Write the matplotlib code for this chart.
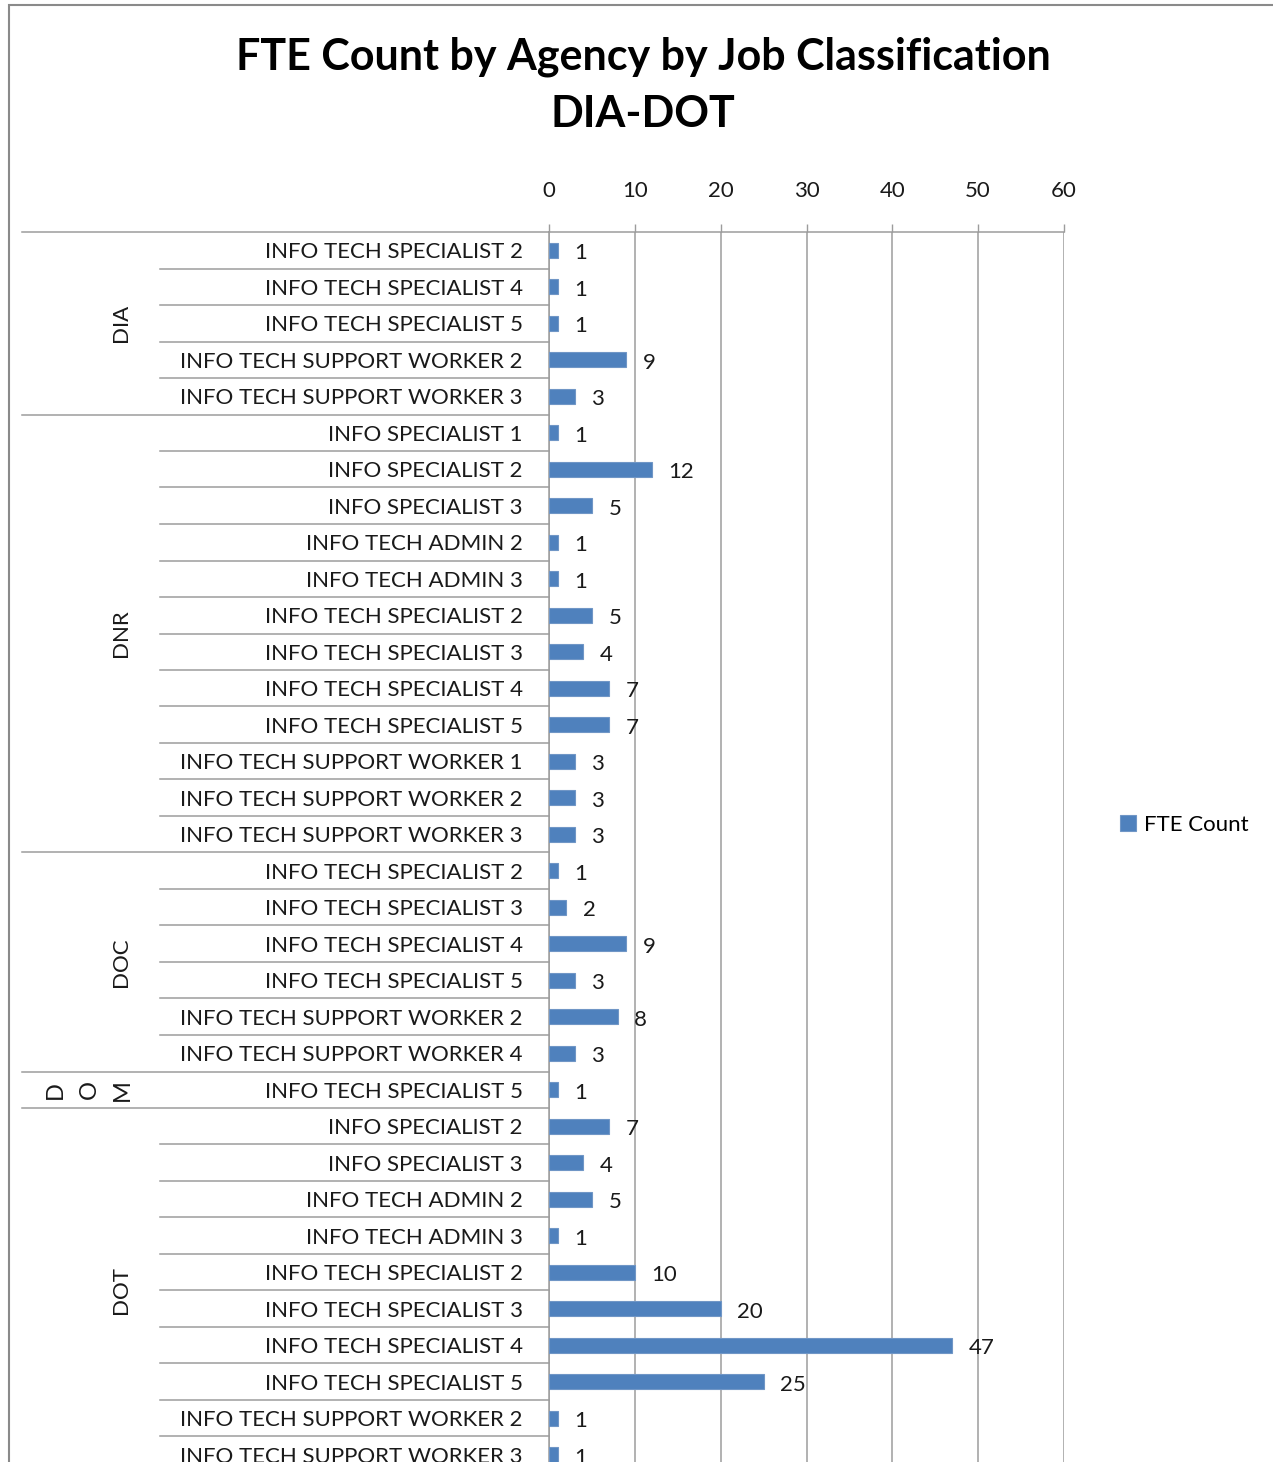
import matplotlib
matplotlib.use('Agg')
import matplotlib.pyplot as plt
import matplotlib.transforms as mtransforms
from matplotlib.patches import Rectangle

plt.rcParams['font.family'] = ['Lato', 'DejaVu Sans']

# Agencies and how many job classes each one has (top to bottom)
agencies = ["DIA", "DNR", "DOC", "DOM", "DOT"]
agency_sizes = [5, 12, 6, 1, 10]

job_classes = [
    # DIA
    "INFO TECH SPECIALIST 2", "INFO TECH SPECIALIST 4", "INFO TECH SPECIALIST 5",
    "INFO TECH SUPPORT WORKER 2", "INFO TECH SUPPORT WORKER 3",
    # DNR
    "INFO SPECIALIST 1", "INFO SPECIALIST 2", "INFO SPECIALIST 3",
    "INFO TECH ADMIN 2", "INFO TECH ADMIN 3",
    "INFO TECH SPECIALIST 2", "INFO TECH SPECIALIST 3", "INFO TECH SPECIALIST 4",
    "INFO TECH SPECIALIST 5",
    "INFO TECH SUPPORT WORKER 1", "INFO TECH SUPPORT WORKER 2", "INFO TECH SUPPORT WORKER 3",
    # DOC
    "INFO TECH SPECIALIST 2", "INFO TECH SPECIALIST 3", "INFO TECH SPECIALIST 4",
    "INFO TECH SPECIALIST 5", "INFO TECH SUPPORT WORKER 2", "INFO TECH SUPPORT WORKER 4",
    # DOM
    "INFO TECH SPECIALIST 5",
    # DOT
    "INFO SPECIALIST 2", "INFO SPECIALIST 3", "INFO TECH ADMIN 2", "INFO TECH ADMIN 3",
    "INFO TECH SPECIALIST 2", "INFO TECH SPECIALIST 3", "INFO TECH SPECIALIST 4",
    "INFO TECH SPECIALIST 5", "INFO TECH SUPPORT WORKER 2", "INFO TECH SUPPORT WORKER 3",
]

fte_count = [
    1, 1, 1, 9, 3,
    1, 12, 5, 1, 1, 5, 4, 7, 7, 3, 3, 3,
    1, 2, 9, 3, 8, 3,
    1,
    7, 4, 5, 1, 10, 20, 47, 25, 1, 1,
]

x_ticks = [0, 10, 20, 30, 40, 50, 60]

W, H = 1273, 1462
fig = plt.figure(figsize=(W / 100, H / 100), dpi=100)

def fx(px):
    return px / W

def fy(py):
    return 1 - py / H

# plot area runs off the bottom of the page, like the exported sheet
ax_left, ax_right, ax_top, ax_bottom = 549, 1064, 232, 1473
ax = fig.add_axes([fx(ax_left), fy(ax_bottom), fx(ax_right - ax_left), (ax_bottom - ax_top) / H])

grey = '#9c9c9c'
blue = '#4F81BD'
ink = '#1a1a1a'
fs = 16

y = range(len(job_classes))
ax.barh(y, fte_count, height=0.4, color=blue, edgecolor='#7096c6',
        linewidth=0.8, label="FTE Count", zorder=3)

for yi, v in zip(y, fte_count):
    ax.annotate(str(v), (v, yi), xytext=(12, -2), textcoords='offset points',
                ha='left', va='center', fontsize=fs, color=ink, zorder=4)

ax.set_xlim(0, 60)
ax.set_ylim(len(job_classes) - 0.5, -0.5)
ax.set_xticks(x_ticks)
ax.xaxis.tick_top()
ax.tick_params(axis='x', direction='out', length=6, width=1, color=grey,
               pad=16, labelsize=fs, labelcolor=ink)
ax.set_yticks(list(y))
ax.set_yticklabels(job_classes)
ax.tick_params(axis='y', length=0, pad=19, labelsize=fs, labelcolor=ink)
ax.grid(True, axis='x', color=grey, linewidth=1.1, zorder=0)
for side in ['right', 'bottom']:
    ax.spines[side].set_visible(False)
for side in ['top', 'left']:
    ax.spines[side].set_color(grey)
    ax.spines[side].set_linewidth(1.1)

# category separators: short ones inside a group, long ones between agencies
trans = mtransforms.blended_transform_factory(fig.transFigure, ax.transData)
bounds = [0]
for n in agency_sizes:
    bounds.append(bounds[-1] + n)
for i in range(len(job_classes)):
    start = 22 if i in bounds else 160
    ax.plot([fx(start), fx(ax_left)], [i - 0.5, i - 0.5], transform=trans,
            color=grey, linewidth=1.1, clip_on=False, zorder=2)

# agency names, rotated; a one-row agency gets its name wrapped letter by letter
for name, lo, hi in zip(agencies, bounds[:-1], bounds[1:]):
    mid = (lo + hi - 1) / 2
    if hi - lo == 1:
        ax.text(fx(89), mid, "\n".join(name), transform=trans, rotation=90,
                ha='center', va='center', fontsize=fs + 1, linespacing=1.75,
                color=ink)
    else:
        ax.text(fx(121), mid, name, transform=trans, rotation=90,
                ha='center', va='center', fontsize=fs, color=ink)

fig.text(fx(643), fy(57), "FTE Count by Agency by Job Classification",
         ha='center', va='center', fontsize=31, fontweight='bold', color='black')
fig.text(fx(643), fy(114), "DIA-DOT",
         ha='center', va='center', fontsize=31, fontweight='bold', color='black')

ax.legend(loc='center left', bbox_to_anchor=(fx(1120), fy(825)),
          bbox_transform=fig.transFigure, frameon=False, fontsize=fs,
          handlelength=0.7, handleheight=0.7, handletextpad=0.4,
          borderpad=0, borderaxespad=0)

# outer chart frame
fig.patches.append(Rectangle((fx(8.5), -0.1), 1.2, fy(4.5) + 0.1,
                             transform=fig.transFigure, fill=False,
                             edgecolor='#8a8a8a', linewidth=1.5))

plt.savefig("out.png", dpi=100)
